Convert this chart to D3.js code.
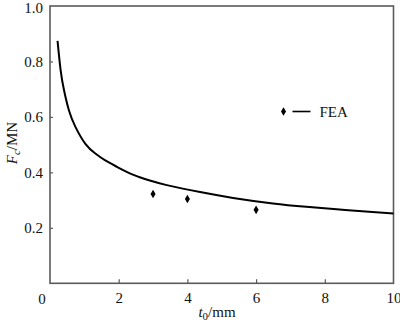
<!DOCTYPE html>
<html>
<head>
<meta charset="utf-8">
<script src="https://cdn.jsdelivr.net/npm/d3@7"></script>
<style>
  html, body { margin: 0; padding: 0; background: #fff; }
  svg { display: block; }
</style>
</head>
<body>
<svg id="chart" width="400" height="324"></svg>
<script>
// Analytical curve F_c versus initial thickness t0
const curveT = [0.22, 0.31, 0.41, 0.55, 0.74, 1.03, 1.32, 1.61, 1.95, 2.43, 2.92, 3.40, 4.37, 5.33, 6.49, 7.46, 8.43, 9.39, 10];
const curveF = [0.874, 0.768, 0.695, 0.624, 0.564, 0.503, 0.468, 0.443, 0.420, 0.391, 0.370, 0.354, 0.329, 0.308, 0.288, 0.276, 0.266, 0.257, 0.252];

// Finite element results
const feaT = [3, 4, 6];
const feaF = [0.322, 0.304, 0.265];

const xTicks = [2, 4, 6, 8, 10];
const yTicks = [0.2, 0.4, 0.6, 0.8, 1.0];

const serif = '"Liberation Serif", "Times New Roman", "DejaVu Serif", serif';

const svg = d3.select("#chart");
const plotL = 50, plotR = 393.5, plotT = 6, plotB = 283.3;

const x = d3.scaleLinear().domain([0, 10]).range([plotL, plotR]);
const y = d3.scaleLinear().domain([0, 1]).range([plotB, plotT]);

const axisColor = "#5a5a5a";

// frame
svg.append("rect")
  .attr("x", plotL).attr("y", plotT)
  .attr("width", plotR - plotL).attr("height", plotB - plotT)
  .attr("fill", "none").attr("stroke", axisColor).attr("stroke-width", 1.6);

// bottom axis: inward ticks
const xAxis = svg.append("g")
  .attr("transform", `translate(0,${plotB})`)
  .call(d3.axisBottom(x).tickValues(xTicks).tickSizeInner(-4).tickSizeOuter(0).tickPadding(9).tickFormat(d3.format("d")));
xAxis.select(".domain").remove();
xAxis.selectAll(".tick line").attr("stroke", axisColor).attr("stroke-width", 1.2);
xAxis.selectAll(".tick text").attr("dy", "0.71em")
  .style("font-family", serif).style("font-size", "15px").style("fill", "#111");
xAxis.selectAll(".tick").filter(d => d === 10).select("line").remove();

// left axis: inward ticks
const yAxis = svg.append("g")
  .attr("transform", `translate(${plotL},0)`)
  .call(d3.axisLeft(y).tickValues(yTicks).tickSizeInner(-3).tickSizeOuter(0).tickPadding(7).tickFormat(d3.format(".1f")));
yAxis.select(".domain").remove();
yAxis.selectAll(".tick line").attr("stroke", axisColor).attr("stroke-width", 1.2);
yAxis.selectAll(".tick text")
  .style("font-family", serif).style("font-size", "15px").style("fill", "#111");
yAxis.selectAll(".tick").filter(d => d === 1.0).select("line").remove();
yAxis.selectAll(".tick").filter(d => d === 1.0).select("text").attr("dy", "0.42em");

// origin label
svg.append("text")
  .attr("x", x(0) - 8).attr("y", plotB + 10)
  .attr("dy", "0.71em").attr("text-anchor", "middle")
  .style("font-family", serif).style("font-size", "15px").style("fill", "#111")
  .text("0");

// curve
const line = d3.line()
  .x((d, i) => x(curveT[i]))
  .y(d => y(d))
  .curve(d3.curveNatural);
svg.append("path")
  .datum(curveF)
  .attr("d", line)
  .attr("fill", "none").attr("stroke", "#000").attr("stroke-width", 2);

// FEA markers
const diamond = d3.symbol().type(d3.symbolDiamond).size(22);
svg.selectAll(".fea")
  .data(feaF)
  .join("path")
  .attr("class", "fea")
  .attr("d", diamond)
  .attr("transform", (d, i) => `translate(${x(feaT[i])},${y(d)})`)
  .attr("fill", "#000");

// legend
const lg = svg.append("g").attr("transform", "translate(283.5,111.5)");
lg.append("path").attr("d", diamond).attr("fill", "#000");
lg.append("line").attr("x1", 9).attr("x2", 27).attr("y1", 0).attr("y2", 0)
  .attr("stroke", "#000").attr("stroke-width", 1.6);
lg.append("text").attr("x", 36).attr("y", 5.5)
  .style("font-family", serif).style("font-size", "15px").style("fill", "#111")
  .text("FEA");

// x label: t0/mm
const xl = svg.append("text")
  .attr("x", 217).attr("y", 317)
  .attr("text-anchor", "middle")
  .style("font-family", serif).style("font-size", "15px").style("fill", "#111");
xl.append("tspan").style("font-style", "italic").text("t");
xl.append("tspan").style("font-size", "11px").attr("dy", 3).text("0");
xl.append("tspan").attr("dy", -3).text("/mm");

// y label: Fc/MN
const yl = svg.append("text")
  .attr("transform", "translate(17,143) rotate(-90)")
  .attr("text-anchor", "middle")
  .style("font-family", serif).style("font-size", "15px").style("fill", "#111");
yl.append("tspan").style("font-style", "italic").text("F");
yl.append("tspan").style("font-size", "11px").style("font-style", "italic").attr("dy", 3).text("c");
yl.append("tspan").attr("dy", -3).text("/MN");
</script>
</body>
</html>
